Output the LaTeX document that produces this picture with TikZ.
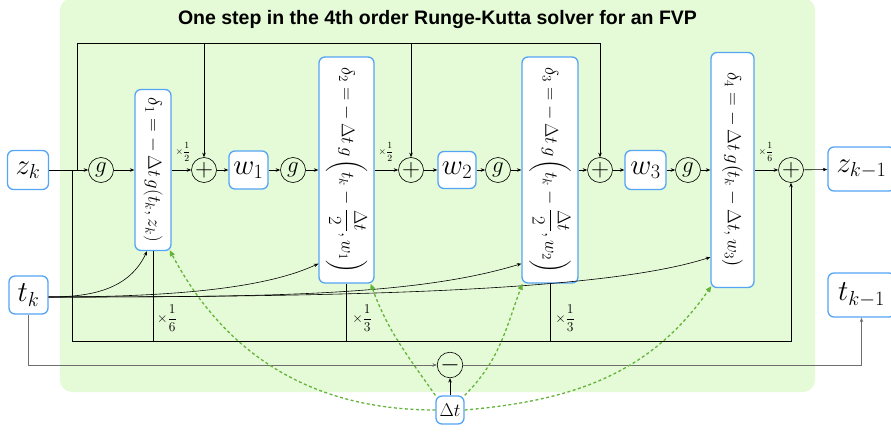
\RequirePackage{fix-cm}
\documentclass[tikz,border=0pt]{standalone}
\usepackage{amsmath}
\usepackage{fontspec}
\newfontfamily\titlefont{Liberation Sans}
\usetikzlibrary{arrows.meta,calc}
\definecolor{bggreen}{RGB}{229,250,214}
\definecolor{boxblue}{RGB}{85,165,245}
\definecolor{dgreen}{RGB}{100,180,60}
\definecolor{lgray}{RGB}{110,110,110}
\tikzset{
  bbox/.style={draw=boxblue, line width=1.3pt, rounded corners=6pt, fill=white, inner sep=0pt},
  opc/.style={circle, draw, line width=0.6pt, minimum size=25pt, inner sep=0pt, font=\fontsize{23}{23}\selectfont},
  opb/.style={opc, font=\fontsize{25}{25}\selectfont},
  arr/.style={-{Stealth[length=4.5pt,width=3.5pt]}, line width=0.6pt},
  garr/.style={-{Triangle[length=6pt,width=5pt]}, draw=dgreen, line width=1.3pt, dash pattern=on 3pt off 2.5pt},
  big/.style={font=\fontsize{29}{30}\selectfont},
  rtext/.style={rotate=-90, inner sep=0pt},
  lbls/.style={font=\fontsize{9.5}{10}\selectfont, inner sep=0pt},
  lblb/.style={font=\fontsize{13.5}{14}\selectfont, inner sep=0pt},
}
\begin{document}
\begin{tikzpicture}[x=1pt,y=1pt]
\useasboundingbox (0,0) rectangle (891,432);
\fill[bggreen, rounded corners=12pt] (60,40) rectangle (815,434);
\node[font=\titlefont\bfseries\fontsize{19.5}{22}\selectfont] (title) at (437.5,412) {One step in the 4th order Runge-Kutta solver for an FVP};

% main row
\node[bbox, big, minimum width=41pt, minimum height=39pt] (zk) at (28,262) {$z_k$};
\node[opc] (g1) at (101,262) {$g$};
\node[bbox, minimum width=36pt, minimum height=161pt] (d1) at (153,262) {};
\node[rtext, font=\fontsize{19}{20}\selectfont] (d1t) at (d1) {$\delta_1 = -\,\Delta t\, g(t_k, z_k)$};
\node[opb] (p1) at (204,262) {$+$};
\node[bbox, big, minimum width=39pt, minimum height=38pt] (w1) at (248.5,262) {$w_1$};
\node[opc] (g2) at (293,262) {$g$};
\node[bbox, minimum width=55pt, minimum height=226pt] (d2) at (346.5,262) {};
\node[rtext, font=\fontsize{18.5}{20}\selectfont] (d2t) at (d2) {$\delta_2 = -\,\Delta t\, g\left(t_k - \dfrac{\Delta t}{2}, w_1\right)$};
\node[opb] (p2) at (411,262) {$+$};
\node[bbox, big, minimum width=38pt, minimum height=37pt] (w2) at (457,262) {$w_2$};
\node[opc] (g3) at (498,262) {$g$};
\node[bbox, minimum width=56pt, minimum height=226pt] (d3) at (550,262) {};
\node[rtext, font=\fontsize{18.5}{20}\selectfont] (d3t) at (d3) {$\delta_3 = -\,\Delta t\, g\left(t_k - \dfrac{\Delta t}{2}, w_2\right)$};
\node[opb] (p3) at (600,262) {$+$};
\node[bbox, big, minimum width=41pt, minimum height=39pt] (w3) at (645.5,262) {$w_3$};
\node[opc] (g4) at (688,262) {$g$};
\node[bbox, minimum width=43pt, minimum height=235pt] (d4) at (732.5,262) {};
\node[rtext, font=\fontsize{19}{20}\selectfont] (d4t) at (d4) {$\delta_4 = -\,\Delta t\, g\bigl(t_k - \Delta t, w_3\bigr)$};
\node[opb] (p4) at (791,262) {$+$};
\node[bbox, big, minimum width=67pt, minimum height=44pt] (zk1) at (861.5,263) {$z_{k-1}$};

% time row
\node[bbox, big, minimum width=39pt, minimum height=38pt] (tk) at (28.5,137) {$t_k$};
\node[bbox, big, minimum width=67pt, minimum height=44pt] (tk1) at (861.5,137) {$t_{k-1}$};
\node[opb] (mn) at (450,67) {$-$};
\node[bbox, font=\fontsize{18.5}{19}\selectfont, minimum width=28pt, minimum height=28pt] (dt) at (450,22) {$\Delta t$};

% junctions
\coordinate (ja) at (77,262);
\coordinate (jb) at (72,262);
\coordinate (tl) at (77,389);
\coordinate (bl) at (72,91);
\coordinate (tko) at ([yshift=-2pt]tk.east);

% main chain
\draw[arr] (zk) -- (g1);
\draw[arr] (g1) -- (d1);
\draw[arr] (d1) -- (p1);
\draw[arr] (p1) -- (w1);
\draw[arr] (w1) -- (g2);
\draw[arr] (g2) -- (d2);
\draw[arr] (d2) -- (p2);
\draw[arr] (p2) -- (w2);
\draw[arr] (w2) -- (g3);
\draw[arr] (g3) -- (d3);
\draw[arr] (d3) -- (p3);
\draw[arr] (p3) -- (w3);
\draw[arr] (w3) -- (g4);
\draw[arr] (g4) -- (d4);
\draw[arr] (d4) -- (p4);
\draw[arr] (p4) -- (zk1);

% top feedback
\draw[arr] (ja) -- (tl) -| (p3);
\draw[arr] (tl -| p1) -- (p1);
\draw[arr] (tl -| p2) -- (p2);

% bottom accumulation
\draw[arr] (jb) -- (bl) -| (p4);
\draw[line width=0.6pt] (d1) -- (d1 |- bl);
\draw[line width=0.6pt] (d2) -- (d2 |- bl);
\draw[line width=0.6pt] (d3) -- (d3 |- bl);

% weight labels
\node[lbls] (l1) at (183,280) {$\times\dfrac{1}{2}$};
\node[lbls] (l2) at (386,280) {$\times\dfrac{1}{2}$};
\node[lbls] (l4) at (766,280) {$\times\dfrac{1}{6}$};
\node[lblb] (b1) at (167,114) {$\times\dfrac{1}{6}$};
\node[lblb] (b2) at (362,114) {$\times\dfrac{1}{3}$};
\node[lblb] (b3) at (565,114) {$\times\dfrac{1}{3}$};

% t_k curves
\draw[arr] (tko) to[out=0,in=-115] ([xshift=-6pt]d1.south);
\draw[arr] (tko) to[out=0,in=-155,out distance=120pt,in distance=60pt] ([yshift=20pt]d2.south west);
\draw[arr] (tko) to[out=0,in=-163,out distance=220pt,in distance=110pt] ([yshift=20pt]d3.south west);
\draw[arr] (tko) to[out=0,in=-162,out distance=300pt,in distance=110pt] ([yshift=31pt]d4.south west);

% time update
\draw[arr, draw=lgray, line width=0.9pt] (tk) |- (mn);
\draw[arr, draw=lgray, line width=0.9pt] (mn) -| (tk1);
\draw[arr] (dt) -- (mn);

% green dashed
\draw[garr] (dt.west) to[out=180,in=-62] ([xshift=-2pt,yshift=1pt]d1.south east);
\draw[garr] (dt.north west) to[out=125,in=-70] ([xshift=-4pt]d2.south east);
\draw[garr] (dt.north east) to[out=45,in=-110] ([xshift=1pt]d3.south west);
\draw[garr] (dt.east) to[out=5,in=-125] ([xshift=1pt,yshift=2pt]d4.south west);
\end{tikzpicture}
\end{document}
